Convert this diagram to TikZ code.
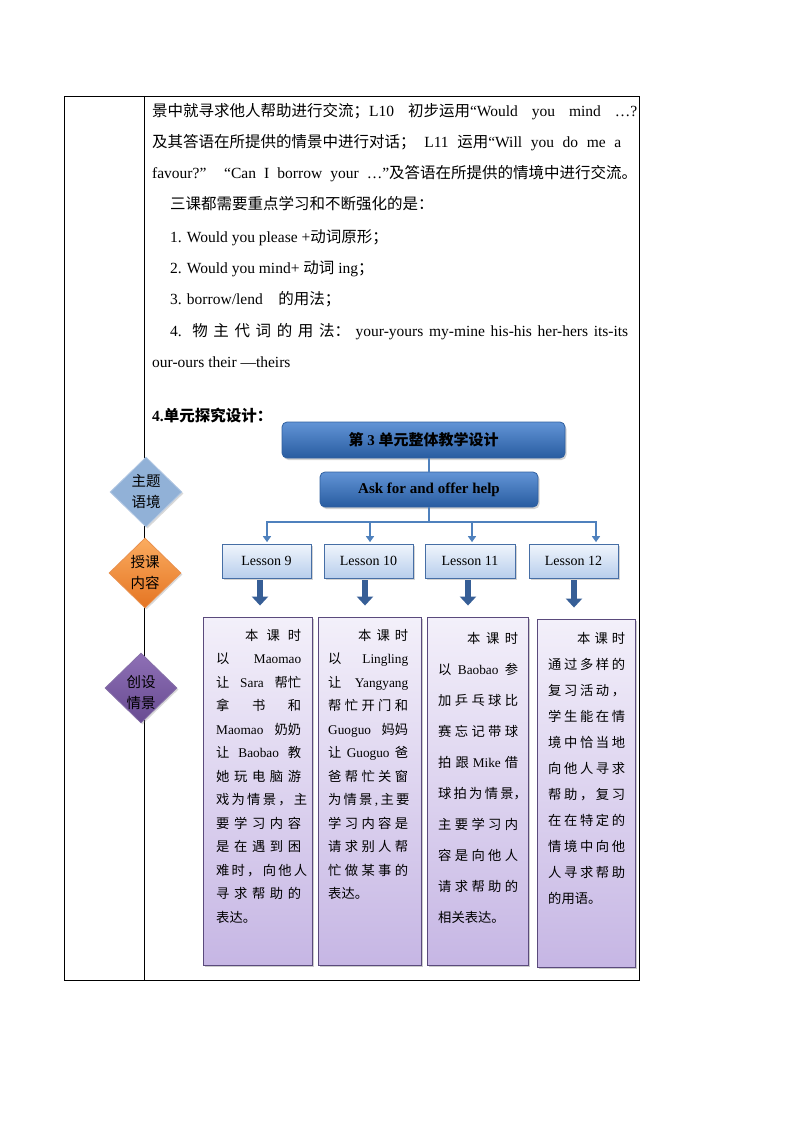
\documentclass[tikz,border=0pt]{standalone}
\usepackage{fontspec}
\setmainfont{Liberation Serif}
\newfontfamily\cjkf{Noto Sans CJK SC}
\XeTeXinterchartokenstate=1
\newXeTeXintercharclass\cjkcls
\newcount\cjkcc
\cjkcc="3000 \loop \XeTeXcharclass\cjkcc=\cjkcls \advance\cjkcc by 1 \ifnum\cjkcc<"3040 \repeat
\cjkcc="4E00 \loop \XeTeXcharclass\cjkcc=\cjkcls \advance\cjkcc by 1 \ifnum\cjkcc<"A000 \repeat
\cjkcc="FF00 \loop \XeTeXcharclass\cjkcc=\cjkcls \advance\cjkcc by 1 \ifnum\cjkcc<"FF60 \repeat
\XeTeXinterchartoks 0 \cjkcls = {\cjkf}
\XeTeXinterchartoks 4095 \cjkcls = {\cjkf}
\XeTeXinterchartoks \cjkcls 0 = {\rmfamily}
\XeTeXinterchartoks \cjkcls 4095 = {\rmfamily}
\usetikzlibrary{arrows.meta,shapes.geometric,shadows}
\definecolor{hdrtop}{RGB}{98,148,214}
\definecolor{hdrbot}{RGB}{40,92,160}
\definecolor{hdrline}{RGB}{48,96,160}
\definecolor{lestop}{RGB}{240,245,252}
\definecolor{lesbot}{RGB}{184,206,236}
\definecolor{lesline}{RGB}{70,110,165}
\definecolor{purtop}{RGB}{243,240,250}
\definecolor{purbot}{RGB}{198,182,228}
\definecolor{purline}{RGB}{90,74,124}
\definecolor{linkc}{RGB}{79,129,189}
\definecolor{bigarr}{RGB}{54,94,150}
\definecolor{dblue}{RGB}{145,177,215}
\definecolor{dorangetop}{RGB}{251,172,96}
\definecolor{dorangebot}{RGB}{228,116,34}
\definecolor{dpurtop}{RGB}{142,111,181}
\definecolor{dpurbot}{RGB}{104,76,146}
\begin{document}
\begin{tikzpicture}[x=1pt,y=-1pt,
  tbl/.style={draw=black,line width=0.9pt},
  ptext/.style={anchor=base west,inner sep=0pt,font=\fontsize{15.5}{18}\selectfont},
  hdr/.style={draw=hdrline,line width=0.8pt,rounded corners=5pt,top color=hdrtop,bottom color=hdrbot,
    drop shadow={shadow xshift=1.5pt,shadow yshift=-2pt,opacity=0.35},
    font=\bfseries\fontsize{15}{18}\selectfont,inner sep=0pt},
  lbox/.style={draw=lesline,line width=0.7pt,top color=lestop,bottom color=lesbot,
    drop shadow={shadow xshift=1.5pt,shadow yshift=-1.5pt,opacity=0.35},
    font=\fontsize{14}{16}\selectfont,inner sep=0pt,minimum height=34pt},
  pbox/.style={draw=purline,line width=0.9pt,top color=purtop,bottom color=purbot,
    drop shadow={shadow xshift=1.5pt,shadow yshift=-1.5pt,opacity=0.4},inner sep=0pt,minimum height=348pt},
  btext/.style={anchor=base west,inner sep=0pt,font=\fontsize{13.3}{16}\selectfont},
  link/.style={draw=linkc,line width=2.8pt},
  sarrow/.style={draw=linkc,line width=1.8pt,-{Triangle[width=8pt,length=6pt]},shorten >=1.5pt},
  barrow/.style={draw=bigarr,line width=5.5pt,-{Triangle[width=16pt,length=9pt]},shorten >=11pt,shorten <=2pt},
  dia/.style={diamond,minimum width=72pt,minimum height=70pt,inner sep=0pt,
    drop shadow={shadow xshift=1.5pt,shadow yshift=-1.5pt,opacity=0.3}},
  dtext/.style={align=center,inner sep=0pt,font=\fontsize{14.5}{21}\selectfont}
]
\useasboundingbox (0,0) rectangle (794,1123);
% table
\draw[tbl] (64,96) rectangle (639,980);
\draw[tbl] (144,96) -- (144,980);
% paragraph text
\node[ptext] (t1) at (152,116.5) {\makebox[485pt][s]{景中就寻求他人帮助进行交流；L10 初步运用“Would you mind …?}};
\node[ptext] (t2) at (152,147.5) {\makebox[469pt][s]{及其答语在所提供的情景中进行对话； L11 运用“Will you do me a}};
\node[ptext] (t3) at (152,178.5) {\makebox[485pt][s]{favour?” “Can I borrow your …”及答语在所提供的情境中进行交流。}};
\node[ptext] (t4) at (170,210) {三课都需要重点学习和不断强化的是：};
\node[ptext] (t5) at (170,242) {1. Would you please +动词原形；};
\node[ptext] (t6) at (170,273) {2. Would you mind+ 动词 ing；};
\node[ptext] (t7) at (170,304) {3. borrow/lend\quad 的用法；};
\node[ptext] (t8) at (170,336) {\makebox[458pt][s]{4. 物 主 代 词 的 用 法： your-yours my-mine his-his her-hers its-its}};
\node[ptext] (t9) at (152,367) {our-ours their —theirs};
\node[ptext,font=\bfseries\fontsize{15.5}{18}\selectfont] (t10) at (152,421) {4.单元探究设计：};
% diamonds
\node[dia,fill=dblue,draw=dblue!70!white,line width=0.8pt] (d1) at (146,492) {};
\node[dtext] (d1t) at (d1) {主题\\语境};
\node[dia,top color=dorangetop,bottom color=dorangebot,draw=dorangebot!80!white,line width=0.8pt] (d2) at (145,573) {};
\node[dtext] (d2t) at (d2) {授课\\内容};
\node[dia,top color=dpurtop,bottom color=dpurbot,draw=dpurbot!80!white,line width=0.8pt] (d3) at (141,688) {};
\node[dtext] (d3t) at ([yshift=-4pt]d3.center) {创设\\情景};
% headers
\node[hdr,minimum width=283pt,minimum height=36pt] (h1) at (423.5,440) {第 3 单元整体教学设计};
\node[hdr,minimum width=218pt,minimum height=35pt] (h2) at (429,489.5) {Ask for and offer help};
\draw[link] (h2.north |- h1.south) -- (h2.north);
% lessons
\node[lbox,minimum width=89pt] (l9) at (266.5,561) {Lesson 9};
\node[lbox,minimum width=89pt] (l10) at (368.5,561) {Lesson 10};
\node[lbox,minimum width=90pt] (l11) at (470,561) {Lesson 11};
\node[lbox,minimum width=89pt] (l12) at (573.5,561) {Lesson 12};
\coordinate (bus) at (429,522);
\coordinate (b9) at (267,522);
\coordinate (b10) at (370,522);
\coordinate (b11) at (472,522);
\coordinate (b12) at (596,522);
\draw[link] (h2.south) -- (bus);
\draw[link,line cap=rect] (b9) -- (b12);
\draw[sarrow] (b9) -- (b9 |- l9.north);
\draw[sarrow] (b10) -- (b10 |- l10.north);
\draw[sarrow] (b11) -- (b11 |- l11.north);
\draw[sarrow] (b12) -- (b12 |- l12.north);
% purple boxes
\node[pbox,minimum width=109pt] (p1) at (257.5,791) {};
\node[pbox,minimum width=103pt] (p2) at (369.5,791) {};
\node[pbox,minimum width=101pt] (p3) at (477.5,791) {};
\node[pbox,minimum width=98pt] (p4) at (586,793) {};
% big arrows
\draw[barrow] ([xshift=-6.5pt]l9.south) -- ([xshift=-6.5pt]l9.south |- p1.north);
\draw[barrow] ([xshift=-3.5pt]l10.south) -- ([xshift=-3.5pt]l10.south |- p2.north);
\draw[barrow] ([xshift=-2pt]l11.south) -- ([xshift=-2pt]l11.south |- p3.north);
\draw[barrow] ([xshift=0.5pt]l12.south) -- ([xshift=0.5pt]l12.south |- p4.north);
% box texts
\foreach \txt [count=\i] in {{\hspace*{29pt}本 课 时},{以 Maomao},{让 Sara 帮忙},{拿 书 和},{Maomao 奶奶},{让 Baobao 教},{她 玩 电 脑 游},{戏 为 情 景 ， 主},{要 学 习 内 容},{是 在 遇 到 困},{难 时 ， 向 他 人},{寻 求 帮 助 的},{表达。\hfill}}
  \node[btext] (pa\i) at (216,{640+(\i-1)*23.5}) {\makebox[85pt][s]{\txt}};
\foreach \txt [count=\i] in {{\hspace*{30pt}本 课 时},{以 Lingling},{让 Yangyang},{帮 忙 开 门 和},{Guoguo 妈妈},{让 Guoguo 爸},{爸 帮 忙 关 窗},{为 情 景 , 主 要},{学 习 内 容 是},{请 求 别 人 帮},{忙 做 某 事 的},{表达。\hfill}}
  \node[btext] (pb\i) at (328,{640+(\i-1)*23.5}) {\makebox[80pt][s]{\txt}};
\foreach \txt [count=\i] in {{\hspace*{29pt}本 课 时},{以 Baobao 参},{加 乒 乓 球 比},{赛 忘 记 带 球},{拍 跟 Mike 借},{球 拍 为 情 景，},{主 要 学 习 内},{容 是 向 他 人},{请 求 帮 助 的},{相关表达。\hfill}}
  \node[btext] (pc\i) at (438,{643+(\i-1)*31}) {\makebox[80pt][s]{\txt}};
\foreach \txt [count=\i] in {{\hspace*{29pt}本 课 时},{通 过 多 样 的},{复 习 活 动 ，},{学 生 能 在 情},{境 中 恰 当 地},{向 他 人 寻 求},{帮 助 ， 复 习},{在 在 特 定 的},{情 境 中 向 他},{人 寻 求 帮 助},{的用语。\hfill}}
  \node[btext] (pd\i) at (548,{643+(\i-1)*26}) {\makebox[77pt][s]{\txt}};
\end{tikzpicture}
\end{document}
